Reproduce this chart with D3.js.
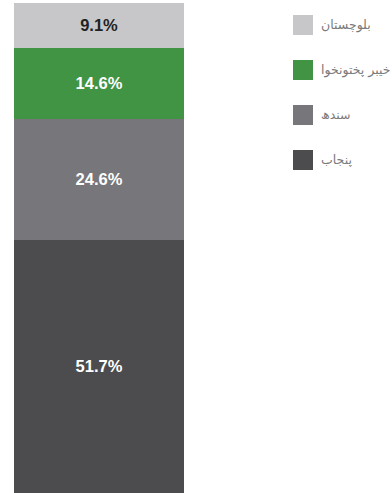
<!DOCTYPE html>
<html>
<head>
<meta charset="utf-8">
<script src="https://cdn.jsdelivr.net/npm/d3@7"></script>
<style>
  html, body { margin: 0; padding: 0; background: #fff; }
  svg { display: block; }
</style>
</head>
<body>
<svg id="chart" width="392" height="493"></svg>
<script>
// Provinces, stacked from the bottom of the bar upward
const provinces = ["پنجاب", "سندھ", "خیبر پختونخوا", "بلوچستان"];
const shares = [51.7, 24.6, 14.6, 9.1];
const colors = ["#4c4c4e", "#77777b", "#409443", "#c7c7c9"];
const labelColors = ["#ffffff", "#ffffff", "#ffffff", "#222222"];
// Legend lists the provinces top to bottom
const legendOrder = ["بلوچستان", "خیبر پختونخوا", "سندھ", "پنجاب"];

const svg = d3.select("#chart");

const y = d3.scaleLinear().domain([0, 100]).range([493, 3]);
const x = d3.scaleBand().domain(["all"]).range([14, 184]).padding(0);

// Cumulative bounds of each segment
let acc = 0;
const segs = provinces.map((p, i) => {
  const s = { name: p, v: shares[i], y0: acc, y1: acc + shares[i], color: colors[i], tc: labelColors[i] };
  acc += shares[i];
  return s;
});

const g = svg.append("g");
g.selectAll("rect.seg")
  .data(segs)
  .join("rect")
  .attr("class", "seg")
  .attr("x", x("all"))
  .attr("width", x.bandwidth())
  .attr("y", d => Math.round(y(d.y1)))
  .attr("height", d => Math.round(y(d.y0)) - Math.round(y(d.y1)))
  .attr("shape-rendering", "crispEdges")
  .attr("fill", d => d.color);

g.selectAll("text.val")
  .data(segs)
  .join("text")
  .attr("class", "val")
  .attr("x", x("all") + x.bandwidth() / 2)
  .attr("y", d => (y(d.y0) + y(d.y1)) / 2)
  .attr("dy", "0.36em")
  .attr("text-anchor", "middle")
  .attr("font-family", "Liberation Sans, Arial, sans-serif")
  .attr("font-weight", "bold")
  .attr("font-size", 16.5)
  .attr("fill", d => d.tc)
  .text(d => d.v.toFixed(1) + "%");

// Legend
const colorOf = d3.scaleOrdinal().domain(provinces).range(colors);
const ly = d3.scaleBand().domain(legendOrder).range([14, 194]).paddingInner(0);
const leg = svg.append("g");
const items = leg.selectAll("g.item")
  .data(legendOrder)
  .join("g")
  .attr("class", "item")
  .attr("transform", d => `translate(293,${ly(d)})`);

items.append("rect")
  .attr("width", 20)
  .attr("height", 20)
  .attr("y", 1)
  .attr("fill", d => colorOf(d));

items.append("text")
  .attr("x", 28)
  .attr("y", 11)
  .attr("dy", "0.35em")
  .attr("text-anchor", "start")
  .attr("direction", "ltr")
  .attr("font-family", "DejaVu Sans, sans-serif")
  .attr("font-size", 12.5)
  .attr("fill", "#7a7a7a")
  .text(d => d);
</script>
</body>
</html>
